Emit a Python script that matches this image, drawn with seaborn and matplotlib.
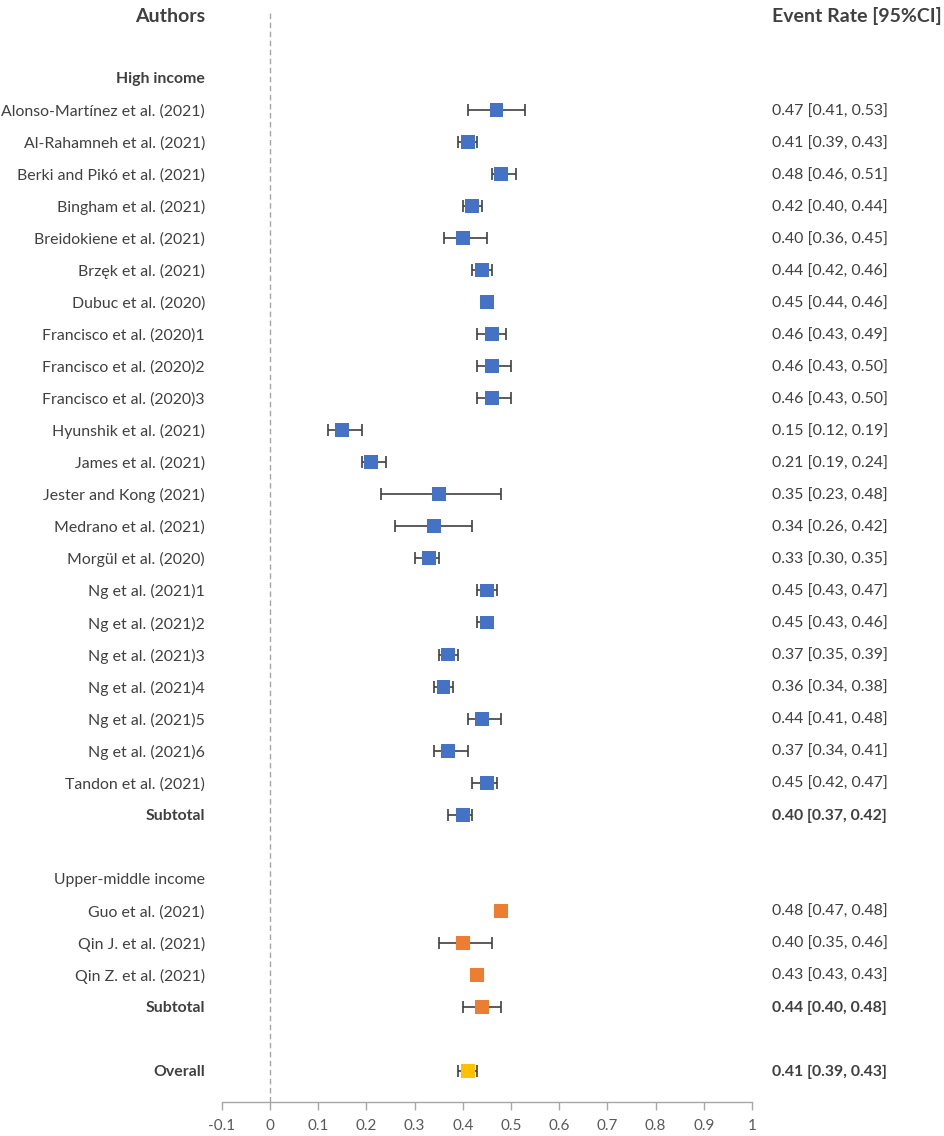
import matplotlib.pyplot as plt
import pandas as pd
import seaborn as sns

HIGH_STUDIES = [
    "Alonso-Martínez et al. (2021)",
    "Al-Rahamneh et al. (2021)",
    "Berki and Pikó et al. (2021)",
    "Bingham et al. (2021)",
    "Breidokiene et al. (2021)",
    "Brzęk et al. (2021)",
    "Dubuc et al. (2020)",
    "Francisco et al. (2020)1",
    "Francisco et al. (2020)2",
    "Francisco et al. (2020)3",
    "Hyunshik et al. (2021)",
    "James et al. (2021)",
    "Jester and Kong (2021)",
    "Medrano et al. (2021)",
    "Morgül et al. (2020)",
    "Ng et al. (2021)1",
    "Ng et al. (2021)2",
    "Ng et al. (2021)3",
    "Ng et al. (2021)4",
    "Ng et al. (2021)5",
    "Ng et al. (2021)6",
    "Tandon et al. (2021)",
]
HIGH_EST = [0.47, 0.41, 0.48, 0.42, 0.40, 0.44, 0.45, 0.46, 0.46, 0.46, 0.15,
            0.21, 0.35, 0.34, 0.33, 0.45, 0.45, 0.37, 0.36, 0.44, 0.37, 0.45]
HIGH_LOW = [0.41, 0.39, 0.46, 0.40, 0.36, 0.42, 0.44, 0.43, 0.43, 0.43, 0.12,
            0.19, 0.23, 0.26, 0.30, 0.43, 0.43, 0.35, 0.34, 0.41, 0.34, 0.42]
HIGH_HIGH = [0.53, 0.43, 0.51, 0.44, 0.45, 0.46, 0.46, 0.49, 0.50, 0.50, 0.19,
             0.24, 0.48, 0.42, 0.35, 0.47, 0.46, 0.39, 0.38, 0.48, 0.41, 0.47]
HIGH_SUBTOTAL = [0.40, 0.37, 0.42]

UPPER_STUDIES = ["Guo et al. (2021)", "Qin J. et al. (2021)", "Qin Z. et al. (2021)"]
UPPER_EST = [0.48, 0.40, 0.43]
UPPER_LOW = [0.47, 0.35, 0.43]
UPPER_HIGH = [0.48, 0.46, 0.43]
UPPER_SUBTOTAL = [0.44, 0.40, 0.48]

OVERALL = [0.41, 0.39, 0.43]

X_TICKS = [-0.1, 0, 0.1, 0.2, 0.3, 0.4, 0.5, 0.6, 0.7, 0.8, 0.9, 1]
X_TICK_LABELS = ["-0.1", "0", "0.1", "0.2", "0.3", "0.4", "0.5", "0.6",
                 "0.7", "0.8", "0.9", "1"]

COLORS = {"high": "#4472C4", "upper": "#ED7D31", "overall": "#FFC000"}
TEXT_COLOR = "#404040"
LABEL_X = -0.135
VALUE_X = 1.041
FONT_SIZE = 11.4


def build_rows():
    """Lay out every study, subtotal and overall estimate on its own row."""
    rows = []
    r = 0
    for name, est, lo, hi in zip(HIGH_STUDIES, HIGH_EST, HIGH_LOW, HIGH_HIGH):
        rows.append(dict(label=name, est=est, lo=lo, hi=hi, kind="high", row=r, bold=False))
        r += 1
    rows.append(dict(label="Subtotal", est=HIGH_SUBTOTAL[0], lo=HIGH_SUBTOTAL[1],
                     hi=HIGH_SUBTOTAL[2], kind="high", row=r, bold=True))
    r += 3
    for name, est, lo, hi in zip(UPPER_STUDIES, UPPER_EST, UPPER_LOW, UPPER_HIGH):
        rows.append(dict(label=name, est=est, lo=lo, hi=hi, kind="upper", row=r, bold=False))
        r += 1
    rows.append(dict(label="Subtotal", est=UPPER_SUBTOTAL[0], lo=UPPER_SUBTOTAL[1],
                     hi=UPPER_SUBTOTAL[2], kind="upper", row=r, bold=True))
    r += 2
    rows.append(dict(label="Overall", est=OVERALL[0], lo=OVERALL[1],
                     hi=OVERALL[2], kind="overall", row=r, bold=True))
    return pd.DataFrame(rows)


def main():
    sns.set_style("white")
    plt.rcParams["font.family"] = ["Lato", "DejaVu Sans"]

    df = build_rows()

    fig = plt.figure(figsize=(9.45, 11.36), dpi=100)
    ax = fig.add_axes([221.8 / 945, 34 / 1136, 530.2 / 945, 1102 / 1136])

    # dashed reference line at zero, from just under the headers to the axis
    ax.axvline(0, ymin=0, ymax=0.988, color="#A6A6A6", lw=1,
               ls=(0, (4, 2.5)), zorder=1)

    ax.errorbar(df["est"], df["row"],
                xerr=[df["est"] - df["lo"], df["hi"] - df["est"]],
                fmt="none", ecolor=TEXT_COLOR, elinewidth=1.2,
                capsize=4, capthick=1.2, zorder=2)
    sns.scatterplot(data=df, x="est", y="row", hue="kind", palette=COLORS,
                    marker="s", s=100, linewidth=0, legend=False, zorder=3, ax=ax)

    for _, r in df.iterrows():
        weight = "bold" if r["bold"] else "normal"
        ax.text(LABEL_X, r["row"], r["label"], ha="right", va="center_baseline",
                fontsize=FONT_SIZE, color=TEXT_COLOR, fontweight=weight, clip_on=False)
        ax.text(VALUE_X, r["row"], f"{r['est']:.2f} [{r['lo']:.2f}, {r['hi']:.2f}]",
                ha="left", va="center_baseline", fontsize=FONT_SIZE, color=TEXT_COLOR,
                fontweight=weight, clip_on=False)

    ax.text(LABEL_X, -1, "High income", ha="right", va="center_baseline",
            fontsize=FONT_SIZE, color=TEXT_COLOR, fontweight="bold", clip_on=False)
    ax.text(LABEL_X, 24, "Upper-middle income", ha="right", va="center_baseline",
            fontsize=FONT_SIZE, color=TEXT_COLOR, clip_on=False)
    ax.text(LABEL_X, -2.97, "Authors", ha="right", va="center_baseline", fontsize=14,
            color=TEXT_COLOR, fontweight="bold", clip_on=False)
    ax.text(VALUE_X, -2.97, "Event Rate [95%CI]", ha="left", va="center_baseline",
            fontsize=14, color=TEXT_COLOR, fontweight="bold", clip_on=False)

    ax.set_xlim(-0.1, 1)
    ax.set_ylim(30.97, -3.434)
    ax.set_xticks(X_TICKS)
    ax.set_xticklabels(X_TICK_LABELS)
    ax.set_yticks([])
    ax.set_xlabel("")
    ax.set_ylabel("")
    ax.tick_params(axis="x", direction="out", length=6, width=1, color="#A6A6A6",
                   labelsize=11, labelcolor="#595959", pad=6, bottom=True)
    for side in ["top", "left", "right"]:
        ax.spines[side].set_visible(False)
    ax.spines["bottom"].set_color("#A6A6A6")
    ax.spines["bottom"].set_linewidth(1)

    fig.savefig("out.png", dpi=100)
    plt.close(fig)


if __name__ == "__main__":
    main()
